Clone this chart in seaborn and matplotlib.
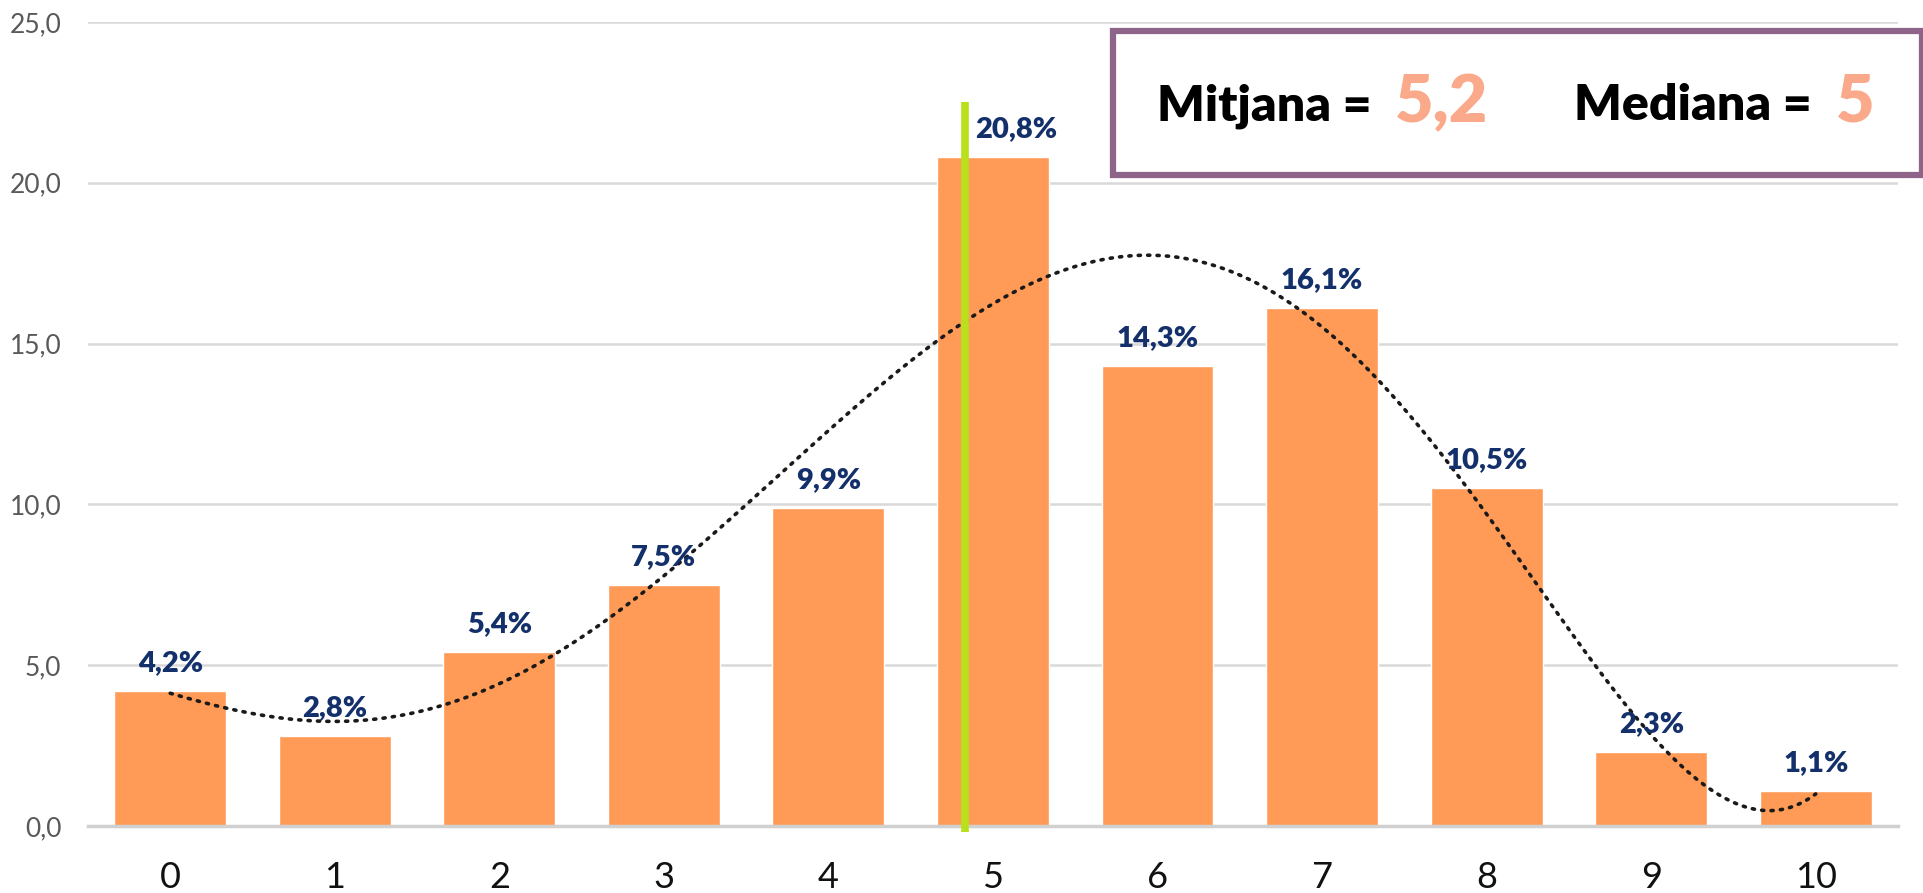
import matplotlib
matplotlib.use("Agg")
import matplotlib.pyplot as plt
import seaborn as sns
import numpy as np
import pandas as pd
from matplotlib.patches import Rectangle
from matplotlib.ticker import FuncFormatter

# Dades: distribució de notes (%)
notes = [0, 1, 2, 3, 4, 5, 6, 7, 8, 9, 10]
percentatges = [4.2, 2.8, 5.4, 7.5, 9.9, 20.8, 14.3, 16.1, 10.5, 2.3, 1.1]
etiquetes = ["4,2%", "2,8%", "5,4%", "7,5%", "9,9%", "20,8%", "14,3%", "16,1%", "10,5%", "2,3%", "1,1%"]
mitjana_txt = "5,2"
mediana_txt = "5"
linia_mediana_x = 4.83
linia_mediana_top = 22.5

df = pd.DataFrame({"nota": notes, "pct": percentatges})

sns.set_theme(style="white")
plt.rcParams["font.family"] = ["Lato", "DejaVu Sans"]

fig = plt.figure(figsize=(19.24, 8.93), dpi=100)
ax = fig.add_axes([0.0457, 0.075, 0.9408, 0.9004])

sns.barplot(data=df, x="nota", y="pct", color="#FF9B57", saturation=1,
            width=0.68, ax=ax, zorder=2)

# línia de tendència polinòmica d'ordre 6 (com a Excel)
coef = np.polyfit(notes, percentatges, 6)
xs = np.linspace(0, 10, 400)
ax.plot(xs, np.polyval(coef, xs), color="#1a1a1a", lw=2.6,
        linestyle=(0, (0.6, 2.0)), dash_capstyle="round", zorder=4)

# línia verda
ax.plot([linia_mediana_x, linia_mediana_x], [-0.2, linia_mediana_top],
        color="#B8E11C", lw=5.5, zorder=5, clip_on=False, solid_capstyle="butt")

# etiquetes de les barres
for i, (v, t) in enumerate(zip(percentatges, etiquetes)):
    dx = 17 if i == 5 else 0
    ax.annotate(t, (i, v), xytext=(dx, 20), textcoords="offset points",
                ha="center", va="center", fontsize=21, fontweight="heavy",
                color="#14306B", zorder=6)

ax.set_ylim(0, 25)
ax.set_xlim(-0.5, 10.5)
ax.set_yticks([0, 5, 10, 15, 20, 25])
ax.yaxis.set_major_formatter(FuncFormatter(lambda v, p: f"{v:.1f}".replace(".", ",")))
ax.grid(axis="y", color="#D9D9D9", lw=1.8, zorder=0)
ax.set_axisbelow(True)
ax.tick_params(axis="y", length=0, pad=19, labelsize=19, labelcolor="#595959")
ax.tick_params(axis="x", length=0, pad=25, labelsize=26, labelcolor="#111111")
ax.set_xlabel("")
ax.set_ylabel("")
for s in ["top", "right", "left"]:
    ax.spines[s].set_visible(False)
ax.spines["bottom"].set_color("#D0D0D0")
ax.spines["bottom"].set_linewidth(2.5)

# quadre de mitjana i mediana
box = Rectangle((1113 / 1924, 1 - 175 / 893), (1922 - 1113) / 1924, 144 / 893,
                transform=fig.transFigure, facecolor="white", edgecolor="#8E6488",
                lw=4.5, zorder=10)
fig.patches.append(box)
ty = 1 - 106 / 893
fig.text(1157 / 1924, ty, "Mitjana =", fontsize=36, fontweight="heavy",
         color="black", va="center", ha="left", zorder=11)
fig.text(1395 / 1924, ty + 0.004, mitjana_txt, fontsize=48, fontweight="heavy",
         color="#FAA98B", va="center", ha="left", zorder=11)
fig.text(1574 / 1924, ty, "Mediana =", fontsize=36, fontweight="heavy",
         color="black", va="center", ha="left", zorder=11)
fig.text(1836 / 1924, ty + 0.004, mediana_txt, fontsize=48, fontweight="heavy",
         color="#FAA98B", va="center", ha="left", zorder=11)

fig.savefig("out.png", dpi=100)
